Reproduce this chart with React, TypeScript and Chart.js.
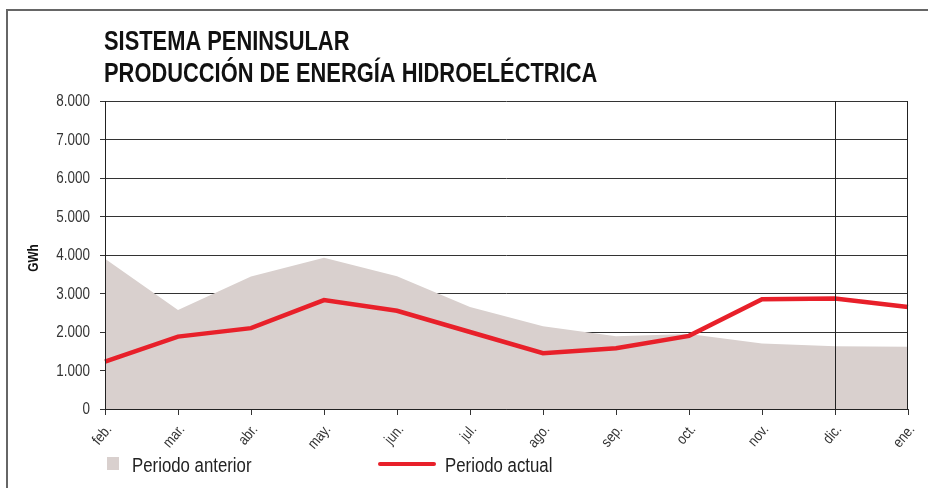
import React, { useEffect, useRef } from "react";
import { Chart, registerables } from "chart.js";

Chart.register(...registerables);

const months = ["feb.", "mar.", "abr.", "may.", "jun.", "jul.", "ago.", "sep.", "oct.", "nov.", "dic.", "ene."];
const periodoAnterior = [3900, 2570, 3440, 3930, 3450, 2650, 2150, 1890, 1950, 1700, 1630, 1620];
const periodoActual = [1230, 1880, 2100, 2830, 2550, 2000, 1450, 1580, 1900, 2850, 2870, 2650];
const yTicks = [0, 1000, 2000, 3000, 4000, 5000, 6000, 7000, 8000];

const FONT = "'Liberation Sans', Arial, sans-serif";
const FILL = "#d9d0ce";
const RED = "#e8202a";
const SX = 0.84;

function fmt(v: number) {
  return String(v).replace(/\B(?=(\d{3})+(?!\d))/g, ".");
}

function narrowText(ctx: any, text: string, x: number, y: number, align: string) {
  ctx.save();
  ctx.translate(x, y);
  ctx.scale(SX, 1);
  ctx.textAlign = align;
  ctx.fillText(text, 0, 0);
  ctx.restore();
}

const overlayPlugin = {
  id: "overlay",
  afterDatasetsDraw(chart: any) {
    const { ctx, chartArea } = chart;
    const xs = chart.scales.x;
    ctx.save();
    ctx.strokeStyle = "#222";
    ctx.lineWidth = 1;
    ctx.beginPath();
    ctx.moveTo(chartArea.left + 0.5, chartArea.top);
    ctx.lineTo(chartArea.left + 0.5, chartArea.bottom);
    ctx.moveTo(chartArea.left, chartArea.bottom + 0.5);
    ctx.lineTo(chartArea.right, chartArea.bottom + 0.5);
    const xd = Math.round(xs.getPixelForValue(10)) + 0.5;
    ctx.moveTo(xd, chartArea.top);
    ctx.lineTo(xd, chartArea.bottom);
    const xr = Math.round(xs.getPixelForValue(11)) - 0.5;
    ctx.moveTo(xr, chartArea.top);
    ctx.lineTo(xr, chartArea.bottom);
    ctx.stroke();
    ctx.restore();
  },
  afterDraw(chart: any) {
    const { ctx, chartArea } = chart;
    const xs = chart.scales.x;
    const ys = chart.scales.y;
    ctx.save();
    // frame
    ctx.strokeStyle = "#666";
    ctx.lineWidth = 2;
    ctx.beginPath();
    ctx.moveTo(7, 488);
    ctx.lineTo(7, 10);
    ctx.lineTo(928, 10);
    ctx.stroke();
    // title
    ctx.fillStyle = "#111";
    ctx.font = "bold 27px " + FONT;
    ctx.textBaseline = "alphabetic";
    ctx.save();
    ctx.translate(104, 50);
    ctx.scale(0.81, 1);
    ctx.fillText("SISTEMA PENINSULAR", 0, 0);
    ctx.fillText("PRODUCCIÓN DE ENERGÍA HIDROELÉCTRICA", 0, 32);
    ctx.restore();
    // y tick labels
    ctx.fillStyle = "#333";
    ctx.font = "16px " + FONT;
    ctx.textBaseline = "middle";
    ys.ticks.forEach((t: any) => {
      const py = ys.getPixelForValue(t.value);
      narrowText(ctx, fmt(t.value), chartArea.left - 15, py + 1, "right");
    });
    // x tick labels
    ctx.font = "15px " + FONT;
    months.forEach((m, i) => {
      const px = xs.getPixelForValue(i);
      ctx.save();
      ctx.translate(px + 4, chartArea.bottom + 18);
      ctx.rotate(-Math.PI * 50 / 180);
      ctx.scale(SX, 1);
      ctx.textAlign = "right";
      ctx.textBaseline = "middle";
      ctx.fillText(m, 0, 0);
      ctx.restore();
    });
    // axis title
    ctx.save();
    ctx.fillStyle = "#111";
    ctx.translate(38, 258);
    ctx.rotate(-Math.PI / 2);
    ctx.scale(SX, 1);
    ctx.font = "bold 14px " + FONT;
    ctx.textAlign = "center";
    ctx.textBaseline = "alphabetic";
    ctx.fillText("GWh", 0, 0);
    ctx.restore();
    // legend
    ctx.fillStyle = FILL;
    ctx.fillRect(107, 457, 12, 13);
    ctx.fillStyle = "#222";
    ctx.font = "20px " + FONT;
    ctx.textBaseline = "alphabetic";
    narrowText(ctx, "Periodo anterior", 132, 472, "left");
    ctx.strokeStyle = RED;
    ctx.lineWidth = 4;
    ctx.lineCap = "round";
    ctx.beginPath();
    ctx.moveTo(380, 464);
    ctx.lineTo(434, 464);
    ctx.stroke();
    narrowText(ctx, "Periodo actual", 445, 472, "left");
    ctx.restore();
  },
};

export default function App() {
  const ref = useRef<HTMLCanvasElement | null>(null);
  useEffect(() => {
    if (!ref.current) return;
    const chart = new Chart(ref.current, {
      type: "line",
      data: {
        labels: months,
        datasets: [
          {
            label: "Periodo actual",
            data: periodoActual,
            borderColor: RED,
            borderWidth: 4.5,
            pointRadius: 0,
            fill: false,
            tension: 0,
            order: 0,
          },
          {
            label: "Periodo anterior",
            data: periodoAnterior,
            borderWidth: 0,
            borderColor: FILL,
            backgroundColor: FILL,
            pointRadius: 0,
            fill: "origin",
            tension: 0,
            order: 1,
          },
        ],
      },
      options: {
        animation: false,
        responsive: true,
        maintainAspectRatio: false,
        layout: { padding: { top: 101, left: 0, right: 20, bottom: 0 } },
        plugins: {
          legend: { display: false },
          title: { display: false },
          tooltip: { enabled: false },
        },
        scales: {
          x: {
            offset: false,
            afterFit: (s: any) => { s.height = 79; },
            grid: {
              color: "rgba(0,0,0,0)",
              tickColor: "#333",
              tickLength: 6,
              drawTicks: true,
            },
            border: { display: false },
            ticks: { display: false, autoSkip: false },
          },
          y: {
            min: 0,
            max: 8000,
            afterFit: (s: any) => { s.width = 105; },
            afterBuildTicks: (s: any) => { s.ticks = yTicks.map((v) => ({ value: v })); },
            grid: {
              color: "#333",
              lineWidth: 1,
              tickColor: "#333",
              tickLength: 5,
            },
            border: { display: false },
            ticks: { display: false },
          },
        },
      },
      plugins: [overlayPlugin],
    });
    return () => chart.destroy();
  }, []);
  return (
    <div style={{ position: "fixed", left: 0, top: 0, width: 928, height: 488, background: "#fff" }}>
      <canvas ref={ref} />
    </div>
  );
}
